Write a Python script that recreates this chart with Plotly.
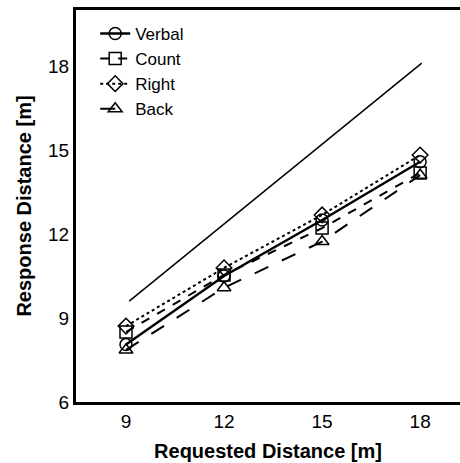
import plotly.graph_objects as go

requested = [9, 12, 15, 18]
verbal = [8.05, 10.5, 12.5, 14.58]
count = [8.5, 10.54, 12.21, 14.18]
right = [8.71, 10.79, 12.68, 14.82]
back = [7.86, 10.08, 11.73, 14.1]
ideal_x = [9.1, 18.05]
ideal_y = [9.6, 18.1]

x_ticks = [9, 12, 15, 18]
y_ticks = [6, 9, 12, 15, 18]

fig = go.Figure()
fig.add_trace(go.Scatter(x=ideal_x, y=ideal_y, mode="lines",
                         line=dict(color="black", width=1.5), showlegend=False))

series = [
    ("Verbal", verbal, "circle-open", "solid", 2.5),
    ("Count", count, "square-open", "dash", 2),
    ("Right", right, "diamond-open", "dot", 2),
    ("Back", back, "triangle-up-open", "longdash", 2),
]
for name, ys, sym, dash, w in series:
    fig.add_trace(go.Scatter(
        x=requested, y=ys, name=name, mode="lines+markers",
        line=dict(color="black", width=w, dash=dash),
        marker=dict(symbol=sym, size=12, color="black", line=dict(width=1.5, color="black")),
    ))

fig.update_layout(
    width=460, height=463,
    margin=dict(l=76, r=0, t=10, b=61),
    paper_bgcolor="white", plot_bgcolor="white",
    font=dict(family="Liberation Sans, Arial, sans-serif", color="black", size=19),
    legend=dict(x=0.05, y=0.985, xanchor="left", yanchor="top",
                bgcolor="rgba(0,0,0,0)", font=dict(size=17),
                tracegroupgap=0, itemwidth=30),
    xaxis=dict(range=[7.47, 19.22], tickvals=x_ticks, ticks="", showgrid=False,
               zeroline=False, showline=True, linecolor="black", linewidth=3, mirror=True,
               tickfont=dict(size=19),
               title=dict(text="<b>Requested Distance [m]</b>", font=dict(size=20), standoff=14)),
    yaxis=dict(range=[6, 20], tickvals=y_ticks, ticks="", showgrid=False,
               zeroline=False, showline=True, linecolor="black", linewidth=3, mirror=False,
               tickfont=dict(size=19),
               title=dict(text="<b>Response Distance [m]</b>", font=dict(size=20), standoff=12)),
)

fig.write_html("out.html")
